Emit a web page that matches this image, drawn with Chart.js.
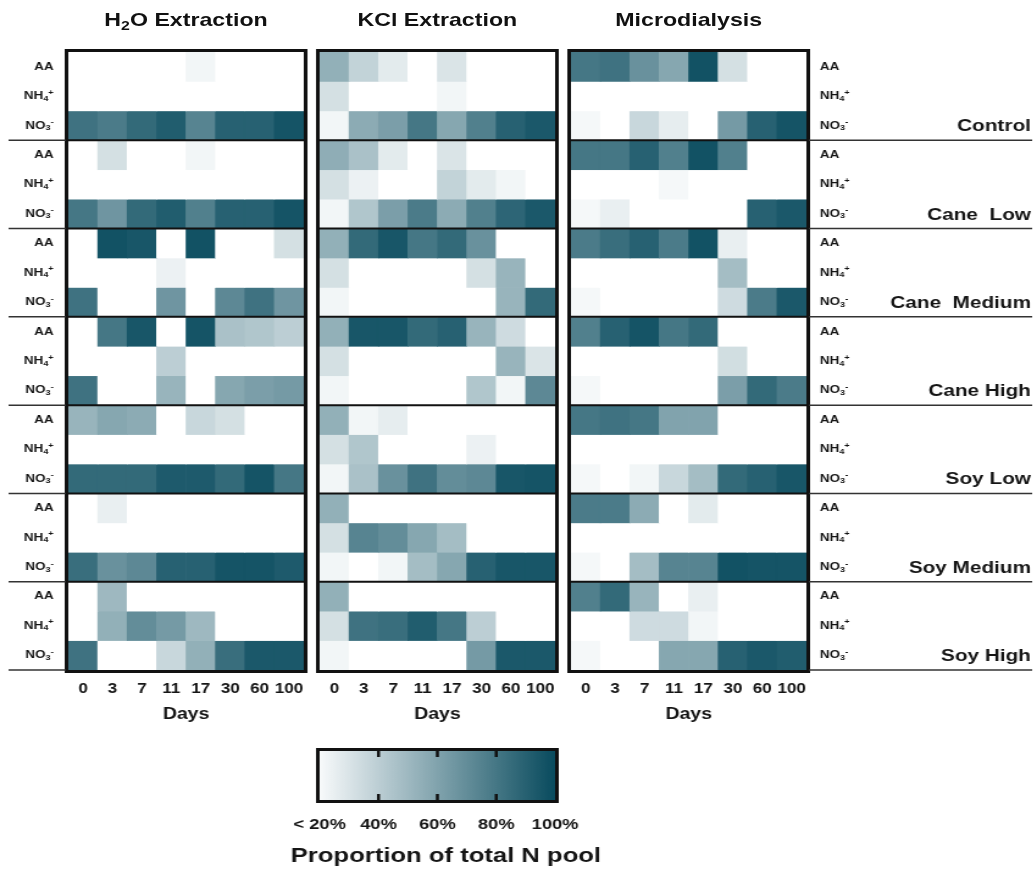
<!DOCTYPE html>
<html>
<head>
<meta charset="utf-8">
<script src="https://cdn.jsdelivr.net/npm/chart.js@4.4.0/dist/chart.umd.min.js"></script>
<style>
  html, body { margin: 0; padding: 0; background: #fff; }
  #fig {
    position: relative; width: 848px; height: 869px;
    transform: scaleX(1.22); transform-origin: 0 0;
    font-family: 'Liberation Sans', Arial, sans-serif; color: #111;
  }
  #fig canvas { position: absolute; top: 0; }
  .title {
    position: absolute; top: 9px; width: 200px; margin-left: -100px;
    text-align: center; font-weight: bold; font-size: 19px; line-height: 22px;
  }
  .title sub { font-size: 13px; vertical-align: -4px; line-height: 0; }
</style>
</head>
<body>
<div id="fig">
  <div class="title" style="left:152.5px">H<sub>2</sub>O Extraction</div>
  <div class="title" style="left:358.5px">KCl Extraction</div>
  <div class="title" style="left:564.5px">Microdialysis</div>
  <canvas id="h2o" width="255" height="730" style="left:0"></canvas>
  <canvas id="kcl" width="206" height="730" style="left:255px"></canvas>
  <canvas id="micro" width="387" height="730" style="left:461px"></canvas>
  <canvas id="scalebar" width="406" height="131" style="left:155px; top:738px"></canvas>
</div>
<script>
const days = ['0', '3', '7', '11', '17', '30', '60', '100'];
const treatments = ['Control', 'Cane  Low', 'Cane  Medium', 'Cane High', 'Soy Low', 'Soy Medium', 'Soy High'];
const species = ['AA', 'NH4+', 'NO3-'];
const pctTicks = [20, 40, 60, 80, 100];

// % of total N pool, one row per treatment x species (AA, NH4+, NO3-), columns = days
// values under 20 are drawn white
const h2oValues = [
  [0, 0, 0, 0, 22, 0, 0, 0],
  [0, 0, 0, 0, 0, 0, 0, 0],
  [82, 78, 86, 92, 74, 90, 90, 96],
  [0, 32, 0, 0, 22, 0, 0, 0],
  [0, 0, 0, 0, 0, 0, 0, 0],
  [80, 66, 86, 92, 76, 90, 90, 96],
  [0, 97, 95, 0, 97, 0, 0, 32],
  [0, 0, 0, 24, 0, 0, 0, 0],
  [82, 0, 0, 66, 0, 72, 82, 66],
  [0, 80, 95, 0, 96, 46, 44, 40],
  [0, 0, 0, 40, 0, 0, 0, 0],
  [82, 0, 0, 52, 0, 58, 62, 64],
  [52, 58, 56, 0, 36, 32, 0, 0],
  [0, 0, 0, 0, 0, 0, 0, 0],
  [86, 86, 86, 93, 93, 86, 96, 80],
  [0, 25, 0, 0, 0, 0, 0, 0],
  [0, 0, 0, 0, 0, 0, 0, 0],
  [84, 68, 72, 90, 90, 96, 96, 93],
  [0, 50, 0, 0, 0, 0, 0, 0],
  [0, 54, 70, 64, 50, 0, 0, 0],
  [82, 0, 0, 36, 54, 84, 94, 94],
];

const kclValues = [
  [54, 38, 27, 0, 30, 0, 0, 0],
  [32, 0, 0, 0, 22, 0, 0, 0],
  [22, 56, 62, 80, 58, 76, 90, 94],
  [55, 46, 27, 0, 30, 0, 0, 0],
  [32, 24, 0, 0, 38, 27, 22, 0],
  [22, 44, 62, 78, 56, 76, 88, 94],
  [54, 86, 95, 80, 86, 68, 0, 0],
  [32, 0, 0, 0, 0, 32, 52, 0],
  [22, 0, 0, 0, 0, 0, 52, 86],
  [54, 95, 95, 86, 90, 52, 34, 0],
  [32, 0, 0, 0, 0, 0, 52, 30],
  [22, 0, 0, 0, 0, 44, 22, 72],
  [54, 22, 26, 0, 0, 0, 0, 0],
  [32, 44, 0, 0, 0, 24, 0, 0],
  [22, 46, 68, 82, 70, 72, 95, 96],
  [54, 0, 0, 0, 0, 0, 0, 0],
  [32, 74, 70, 58, 48, 0, 0, 0],
  [22, 0, 22, 48, 58, 90, 95, 95],
  [54, 0, 0, 0, 0, 0, 0, 0],
  [32, 82, 84, 92, 80, 40, 0, 0],
  [22, 0, 0, 0, 0, 64, 94, 94],
];

const microValues = [
  [80, 82, 68, 58, 97, 32, 0, 0],
  [0, 0, 0, 0, 0, 0, 0, 0],
  [21, 0, 36, 26, 0, 64, 90, 96],
  [80, 80, 90, 76, 97, 76, 0, 0],
  [0, 0, 0, 21, 0, 0, 0, 0],
  [21, 25, 0, 0, 0, 0, 90, 94],
  [78, 84, 90, 78, 97, 25, 0, 0],
  [0, 0, 0, 0, 0, 48, 0, 0],
  [21, 0, 0, 0, 0, 34, 78, 94],
  [76, 90, 96, 80, 86, 0, 0, 0],
  [0, 0, 0, 0, 0, 33, 0, 0],
  [21, 0, 0, 0, 0, 62, 86, 78],
  [80, 82, 80, 60, 60, 0, 0, 0],
  [0, 0, 0, 0, 0, 0, 0, 0],
  [21, 0, 22, 36, 48, 86, 90, 95],
  [78, 78, 56, 0, 27, 0, 0, 0],
  [0, 0, 0, 0, 0, 0, 0, 0],
  [21, 0, 48, 74, 74, 97, 96, 96],
  [76, 86, 52, 0, 25, 0, 0, 0],
  [0, 0, 34, 34, 22, 0, 0, 0],
  [21, 0, 0, 58, 58, 90, 94, 92],
];

const FONT = "'Liberation Sans', Arial, sans-serif";
Chart.defaults.font.family = FONT;
Chart.defaults.color = '#151515';

const paleRGB = [248, 250, 251];
const deepRGB = [9, 75, 94];

function shade(v) {
  if (v < 20) return '#ffffff';
  const t = Math.min(1, (v - 20) / 80);
  const c = paleRGB.map((p, i) => Math.round(p + (deepRGB[i] - p) * t));
  return `rgb(${c.join(',')})`;
}

// label pieces: 0 = normal, 1 = subscript, 2 = superscript
const ionParts = {
  'AA': [['AA', 0]],
  'NH4+': [['NH', 0], ['4', 1], ['+', 2]],
  'NO3-': [['NO', 0], ['3', 1], ['-', 2]],
};

function drawIon(ctx, name, x, y, align) {
  const parts = ionParts[name];
  const fontOf = (k) => `bold ${k ? 7.5 : 11}px ${FONT}`;
  const widths = parts.map(([t, k]) => {
    ctx.font = fontOf(k);
    return ctx.measureText(t).width;
  });
  let cx = align === 'right' ? x - widths.reduce((a, b) => a + b, 0) : x;
  ctx.textAlign = 'left';
  ctx.textBaseline = 'middle';
  parts.forEach(([t, k], i) => {
    ctx.font = fontOf(k);
    const dy = k === 1 ? 2.5 : k === 2 ? -3.5 : 0;
    ctx.fillText(t, cx, y + dy);
    cx += widths[i];
  });
}

function hline(ctx, x0, x1, y) {
  ctx.beginPath();
  ctx.moveTo(x0, y);
  ctx.lineTo(x1, y);
  ctx.stroke();
}

// keep the plot area fixed: no extra room for the outer tick labels
function fixAxis(height) {
  return (s) => {
    s.height = height;
    s.paddingLeft = 0;
    s.paddingRight = 0;
  };
}

const framePlugin = {
  id: 'frame',
  afterDatasetsDraw(chart, args, opts) {
    const { ctx, chartArea: a, scales: { y } } = chart;
    const nRows = species.length;
    ctx.save();
    ctx.strokeStyle = '#111';
    ctx.lineWidth = 2;
    for (let g = 1; g < treatments.length; g++) {
      hline(ctx, a.left, a.right, y.getPixelForValue(g * nRows));
    }
    ctx.lineWidth = 3;
    ctx.strokeRect(a.left - 1.5, a.top - 1.5, a.right - a.left + 3, a.bottom - a.top + 3);

    if (opts.side) {
      ctx.fillStyle = '#151515';
      ctx.strokeStyle = '#333';
      ctx.lineWidth = 1.5;
      treatments.forEach((name, g) => {
        const yb = y.getPixelForValue((g + 1) * nRows);
        if (opts.side === 'left') hline(ctx, 7, a.left - 2, yb);
        else hline(ctx, a.right + 2, chart.width - 2, yb);
        species.forEach((sp, s) => {
          const yc = y.getPixelForValue(g * nRows + s + 0.5);
          if (opts.side === 'left') drawIon(ctx, sp, 44, yc, 'right');
          else drawIon(ctx, sp, a.right + 11, yc, 'left');
        });
        if (opts.side === 'right') {
          ctx.font = `bold 17px ${FONT}`;
          ctx.textAlign = 'right';
          ctx.textBaseline = 'middle';
          ctx.fillText(name, chart.width - 3, y.getPixelForValue(g * nRows + 2.5) + 1);
        }
      });
    }
    ctx.restore();
  },
};

function panelChart(id, rows, padding, side) {
  const datasets = rows.map((vals, r) => ({
    data: days.map(() => [r, r + 1]),
    backgroundColor: vals.map(shade),
    grouped: false,
    barPercentage: 1,
    categoryPercentage: 1,
    borderWidth: 0,
  }));
  return new Chart(document.getElementById(id), {
    type: 'bar',
    data: { labels: days, datasets },
    options: {
      responsive: false,
      animation: false,
      events: [],
      layout: { padding },
      plugins: {
        legend: { display: false },
        tooltip: { enabled: false },
        frame: { side },
      },
      scales: {
        x: {
          grid: { display: false, drawTicks: false },
          border: { display: false },
          ticks: { font: { size: 14, weight: 'bold' }, padding: 11, maxRotation: 0, autoSkip: false },
          title: {
            display: true, text: 'Days',
            font: { size: 16, weight: 'bold' },
            padding: { top: 0, bottom: 6 },
          },
          afterFit: fixAxis(60),
        },
        y: { display: false, min: 0, max: treatments.length * species.length, reverse: true },
      },
    },
    plugins: [framePlugin],
  });
}

panelChart('h2o', h2oValues, { left: 56, right: 6, top: 52, bottom: 0 }, 'left');
panelChart('kcl', kclValues, { left: 7, right: 6, top: 52, bottom: 0 }, null);
panelChart('micro', microValues, { left: 7, right: 187, top: 52, bottom: 0 }, 'right');

// colour key
const keyFrame = {
  id: 'keyFrame',
  afterDatasetsDraw(chart) {
    const { ctx, chartArea: a, scales: { x } } = chart;
    ctx.save();
    ctx.strokeStyle = '#111';
    ctx.lineWidth = 3;
    ctx.strokeRect(a.left - 1.5, a.top - 1.5, a.right - a.left + 3, a.bottom - a.top + 3);
    ctx.lineWidth = 2.5;
    pctTicks.slice(1, -1).forEach((v) => {
      const px = x.getPixelForValue(v);
      ctx.beginPath();
      ctx.moveTo(px, a.top);
      ctx.lineTo(px, a.top + 6);
      ctx.moveTo(px, a.bottom - 6);
      ctx.lineTo(px, a.bottom);
      ctx.stroke();
    });
    ctx.fillStyle = '#151515';
    ctx.font = `bold 21px ${FONT}`;
    ctx.textAlign = 'center';
    ctx.textBaseline = 'middle';
    ctx.fillText('Proportion of total N pool', (a.left + a.right) / 2 + 7, 118);
    ctx.restore();
  },
};

new Chart(document.getElementById('scalebar'), {
  type: 'bar',
  data: {
    labels: [''],
    datasets: [{
      data: [[pctTicks[0], pctTicks[pctTicks.length - 1]]],
      backgroundColor: (c) => {
        const a = c.chart.chartArea;
        if (!a) return null;
        const g = c.chart.ctx.createLinearGradient(a.left, 0, a.right, 0);
        pctTicks.forEach((v) => g.addColorStop((v - 20) / 80, shade(v)));
        return g;
      },
      borderWidth: 0,
      barPercentage: 1,
      categoryPercentage: 1,
    }],
  },
  options: {
    indexAxis: 'y',
    responsive: false,
    animation: false,
    events: [],
    layout: { padding: { left: 107, right: 106, top: 13, bottom: 0 } },
    plugins: { legend: { display: false }, tooltip: { enabled: false } },
    scales: {
      x: {
        type: 'linear', min: 20, max: 100,
        grid: { display: false, drawTicks: false },
        border: { display: false },
        afterBuildTicks: (s) => { s.ticks = pctTicks.map((v) => ({ value: v })); },
        ticks: {
          callback: (v) => (v === 20 ? '< 20%' : v + '%'),
          font: { size: 15, weight: 'bold' },
          padding: 16,
          maxRotation: 0,
          autoSkip: false,
        },
        afterFit: fixAxis(69),
      },
      y: { display: false },
    },
  },
  plugins: [keyFrame],
});
</script>
</body>
</html>
